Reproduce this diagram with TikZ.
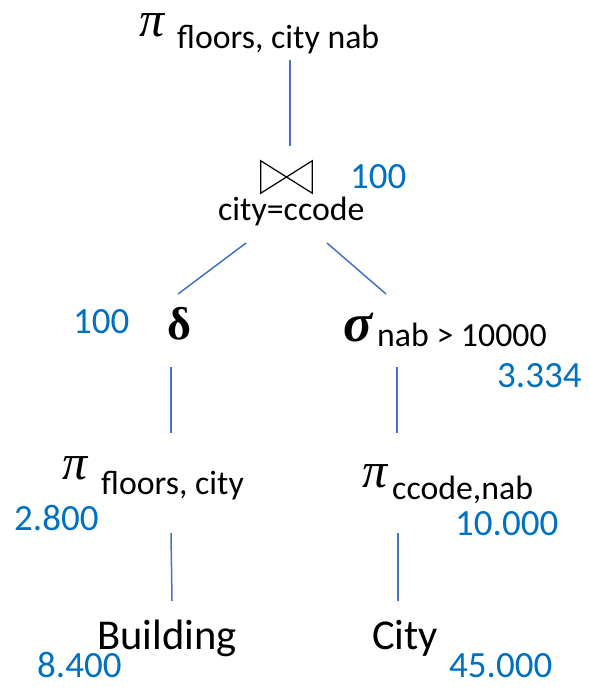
\documentclass[tikz,border=0pt]{standalone}
\usepackage{fontspec}
\setmainfont{Carlito}
\newfontfamily\grk{Liberation Serif}
\definecolor{numblue}{HTML}{0070C0}
\definecolor{edgeblue}{HTML}{4472C4}
\begin{document}
\begin{tikzpicture}[x=1pt,y=-1pt,
  lbl/.style={inner sep=0pt, anchor=base west, font=\fontsize{33.8}{36}\selectfont},
  rel/.style={inner sep=0pt, anchor=base west, font=\fontsize{42.5}{46}\selectfont},
  num/.style={inner sep=0pt, anchor=base west, text=numblue, font=\fontsize{37}{40}\selectfont},
  gbase/.style={inner sep=0pt, anchor=base west, text height=24pt, text depth=2pt},
  gi/.style={gbase, font=\fontsize{50}{54}\grk\itshape},
  gb/.style={gbase, text height=30pt, font=\fontsize{46}{50}\grk\bfseries},
  gbi/.style={gbase, font=\fontsize{54}{58}\grk\bfseries\itshape},
  edge/.style={draw=edgeblue, line width=1.5pt}]
\useasboundingbox (0,0) rectangle (589,689);

% top projection
\node[gi]  (pitop)  at (139,36) {π};
\node[lbl] (pitops) at (177,48) {floors, city nab};

% join operator
\node[inner sep=0pt, minimum width=51pt, minimum height=32pt] (join) at (286.5,177) {};
\draw[line width=1.2pt, line join=miter]
  (join.north west) -- (join.south east) -- (join.north east) -- (join.south west) -- cycle;
\node[lbl] (joincond) at (218,220) {city=ccode};
\node[num] (njoin) at (350,188) {100};

% second level
\node[num] (ndelta) at (73,333) {100};
\node[gb]  (delta)  at (167,339) {δ};
\node[gbi] (sigma)  at (343,341) {σ};
\node[lbl] (sigmas) at (377,346) {nab > 10000};
\node[num] (nsigma) at (497,387) {3.334};

% third level
\node[gi]  (pil)  at (62,479) {π};
\node[lbl] (pils) at (101,494) {floors, city};
\node[num] (npil) at (14,530) {2.800};
\node[gi]  (pir)  at (362,487) {π};
\node[lbl] (pirs) at (392,499) {ccode,nab};
\node[num] (npir) at (455,535) {10.000};

% relations
\node[rel] (bld)  at (97,649) {Building};
\node[rel] (city) at (372,649) {City};
\node[num] (nbld) at (37,677) {8.400};
\node[num] (ncity) at (449,677) {45.000};

% connector end points
\coordinate (c1a) at (290,60);  \coordinate (c1b) at (290,146);
\coordinate (c2a) at (246,243); \coordinate (c2b) at (178,294);
\coordinate (c3a) at (327,243); \coordinate (c3b) at (386,294);
\coordinate (c4a) at (171,367); \coordinate (c4b) at (171,433);
\coordinate (c5a) at (397,367); \coordinate (c5b) at (397,433);
\coordinate (c6a) at (171,533); \coordinate (c6b) at (172,601);
\coordinate (c7a) at (398,533); \coordinate (c7b) at (398,601);

\draw[edge] (c1a) -- (c1b);
\draw[edge] (c2a) -- (c2b);
\draw[edge] (c3a) -- (c3b);
\draw[edge] (c4a) -- (c4b);
\draw[edge] (c5a) -- (c5b);
\draw[edge] (c6a) -- (c6b);
\draw[edge] (c7a) -- (c7b);
\end{tikzpicture}
\end{document}
